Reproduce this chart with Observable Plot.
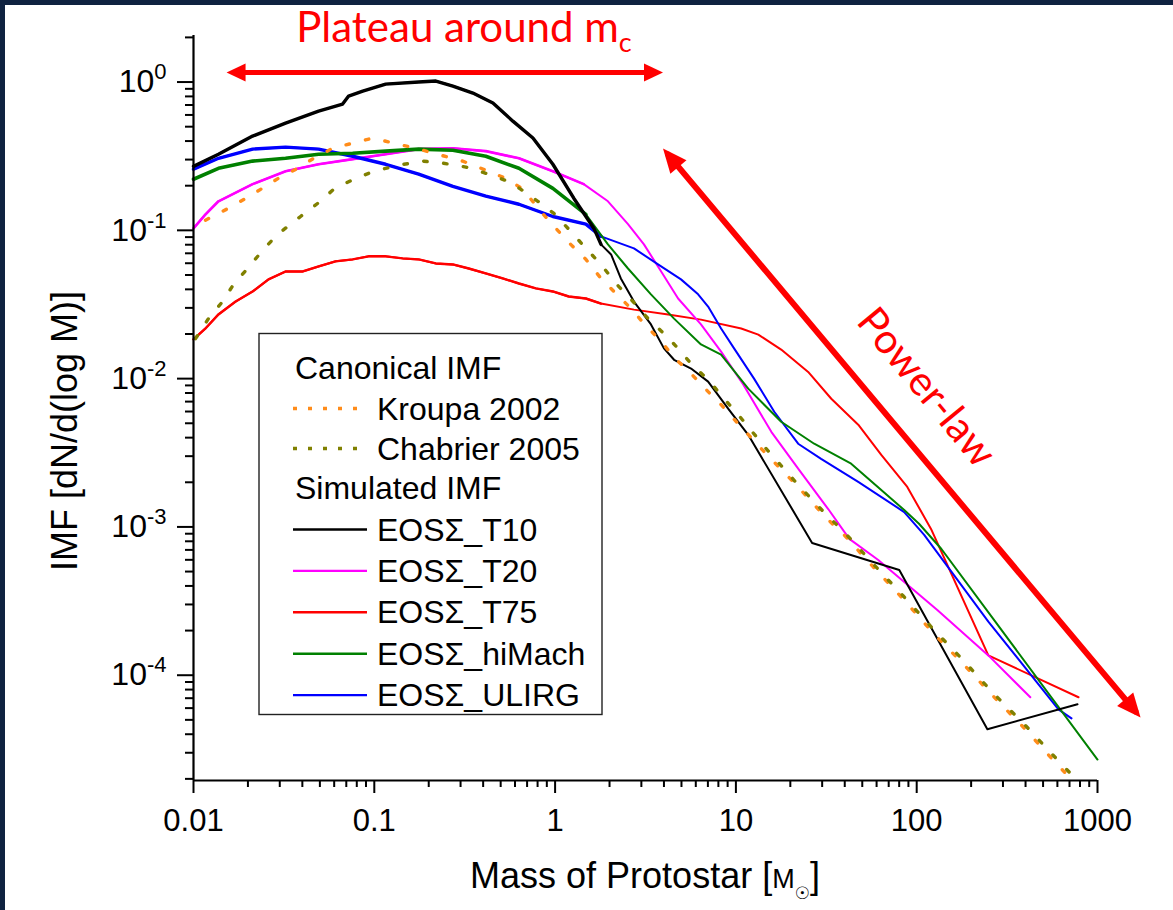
<!DOCTYPE html>
<html>
<head>
<meta charset="utf-8">
<script src="https://cdn.jsdelivr.net/npm/d3@7"></script>
<script src="https://cdn.jsdelivr.net/npm/@observablehq/plot@0.6"></script>
<style>
html, body { margin: 0; padding: 0; background: #ffffff; }
#wrap { width: 1168px; height: 905px; border-top: 5px solid #0f2240; border-left: 5px solid #0f2240; background: #ffffff; overflow: hidden; }
</style>
</head>
<body>
<div id="wrap"></div>
<script>
// ---------------- data ----------------
const xTickValues = [0.01, 0.1, 1, 10, 100, 1000];
const xTickLabels = ["0.01", "0.1", "1", "10", "100", "1000"];
const yTickValues = [1e-4, 1e-3, 1e-2, 1e-1, 1];
const yTickExps = ["-4", "-3", "-2", "-1", "0"];

// Simulated IMFs
const t10M = [0.01,0.01374,0.02123,0.0323,0.0492,0.0668,0.0721,0.0863,0.1156,0.176,0.219,0.272,0.351,0.453,0.584,0.754,0.972,1.271,1.640,1.794,2.04,2.31,2.73,3.39,4.00,4.55,5.65,7.02,9.06,11.7,26.4,80.1,246,775];
const t10V = [0.270,0.326,0.432,0.528,0.637,0.710,0.804,0.869,0.969,1.0,1.016,0.940,0.843,0.722,0.545,0.419,0.279,0.164,0.103,0.0804,0.0688,0.0474,0.0331,0.0232,0.0160,0.0134,0.0117,0.00955,0.00627,0.00418,0.000780,0.000512,4.32e-5,6.37e-5];

const t20M = [0.01,0.01165,0.01374,0.02123,0.0323,0.0492,0.0759,0.1156,0.176,0.272,0.414,0.631,0.972,1.44,1.96,2.53,3.10,3.86,4.79,6.41,8.28,11.0,15.7,22.1,32.4,42.4,61.3,130,249,425];
const t20V = [0.103,0.128,0.157,0.205,0.250,0.279,0.302,0.326,0.353,0.358,0.342,0.306,0.250,0.205,0.157,0.110,0.0804,0.0528,0.0347,0.0232,0.0152,0.00910,0.00438,0.00247,0.00132,0.000830,0.000598,0.000275,0.000136,7.10e-5];

const t75M = [0.01,0.01165,0.01374,0.0171,0.02123,0.0260,0.0323,0.0402,0.0492,0.0611,0.0759,0.0931,0.1156,0.1435,0.176,0.219,0.272,0.333,0.414,0.514,0.631,0.783,0.972,1.19,1.48,1.794,2.73,4.22,6.41,10.7,13.3,17.8,25.1,33.7,47.5,63.7,88.7,120,249,785];
const t75V = [0.0184,0.0218,0.0271,0.0331,0.0387,0.0467,0.0528,0.0528,0.0571,0.0618,0.0637,0.0668,0.0668,0.0647,0.0637,0.0598,0.0589,0.0553,0.0512,0.0474,0.0438,0.0406,0.0387,0.0358,0.0347,0.0321,0.0292,0.0271,0.0250,0.0218,0.0198,0.0157,0.0111,0.00732,0.00489,0.00306,0.00186,0.000969,0.000136,7.10e-5];

const hiMachM = [0.01,0.01374,0.02123,0.0323,0.0492,0.0759,0.1156,0.176,0.272,0.414,0.631,0.972,1.48,1.96,2.53,3.39,4.55,6.41,8.28,11.7,17.8,27.1,43.4,85.3,103,137,1000];
const hiMachV = [0.221,0.262,0.293,0.306,0.326,0.331,0.342,0.353,0.347,0.316,0.262,0.192,0.128,0.0804,0.0553,0.0370,0.0254,0.0170,0.0145,0.00856,0.00512,0.00364,0.00267,0.00130,0.00105,0.000710,2.7e-5];

const ulirgM = [0.01,0.01374,0.02123,0.0323,0.0492,0.0759,0.1156,0.176,0.272,0.414,0.631,0.972,1.48,1.794,2.73,3.71,4.97,6.18,7.02,8.28,9.77,12.6,16.3,22.1,29.6,47.5,85.3,110,249,608,718];
const ulirgV = [0.258,0.306,0.353,0.364,0.353,0.316,0.279,0.239,0.198,0.170,0.150,0.124,0.110,0.0911,0.0756,0.0589,0.0467,0.0370,0.0306,0.0218,0.0160,0.0100,0.00598,0.00364,0.00288,0.00201,0.00126,0.000883,0.00023,5.89e-5,5.12e-5];

// Canonical IMFs
const kroupaM = [0.01165,0.01563,0.0194,0.0235,0.0296,0.0377,0.0462,0.0589,0.0759,0.098,0.176,0.308,0.430,0.548,0.664,0.834,1.01,1.22,1.48,1.794,2.17,2.63,3.10,3.86,4.55,5.65,7.02,8.28,10.3,14.7,22.1,31.6,39.7,57.5,84.3,125,181,262,399,563,718];
const kroupaV = [0.117,0.141,0.164,0.189,0.225,0.262,0.306,0.358,0.387,0.419,0.353,0.293,0.250,0.221,0.189,0.134,0.103,0.0804,0.0637,0.0474,0.0375,0.0297,0.0235,0.0178,0.0139,0.0108,0.00817,0.00667,0.00496,0.00311,0.00186,0.00115,0.000883,0.000537,0.000326,0.000189,0.000119,7.33e-5,4.32e-5,2.71e-5,1.98e-5];

const chabrierM = [0.01026,0.0121,0.01448,0.01665,0.0199,0.0244,0.0292,0.0391,0.0486,0.0596,0.0769,0.0993,0.1365,0.185,0.239,0.321,0.430,0.548,0.647,0.803,0.985,1.22,1.48,1.794,2.17,2.63,3.27,4.00,4.79,5.65,7.02,8.61,10.3,14.7,22.1,31.6,39.7,57.5,84.3,125,181,262,399,563,718];
const chabrierV = [0.0186,0.0254,0.0331,0.0432,0.0553,0.0745,0.0940,0.124,0.152,0.189,0.221,0.250,0.275,0.293,0.284,0.267,0.239,0.214,0.189,0.157,0.130,0.0985,0.0756,0.0589,0.0438,0.0342,0.0254,0.0201,0.0160,0.0126,0.00984,0.00732,0.00571,0.00337,0.00192,0.00121,0.000925,0.000562,0.000342,0.000201,0.000126,7.68e-5,4.59e-5,2.92e-5,2.14e-5];

// Annotation anchors (data space)
const plateauArrowM = [0.01687, 3.57];
const plateauArrowV = [1.159, 1.159];
const powerArrowM = [4.22, 1621];
const powerArrowV = [0.324, 5.70e-5];
const powerLabelM = [113];
const powerLabelV = [0.00871];
const powerLabelText = ["Power-law"];

// legend entries
const legendCanonical = ["Kroupa 2002", "Chabrier 2005"];
const legendSimulated = ["EOSΣ_T10", "EOSΣ_T20", "EOSΣ_T75", "EOSΣ_hiMach", "EOSΣ_ULIRG"];

// ---------------- helpers ----------------
const rows = (Ms, Vs) => Ms.map((m, i) => ({M: m, V: Vs[i]}));
const xMinorTicks = [];
for (const e of [-2, -1, 0, 1, 2]) for (let k = 2; k <= 9; k++) xMinorTicks.push(+(k * Math.pow(10, e)).toPrecision(3));
const yMinorTicks = [];
for (const e of [-5, -4, -3, -2, -1, 0]) for (let k = 2; k <= 9; k++) {
  const v = +(k * Math.pow(10, e)).toPrecision(3);
  if (v >= 1.95e-5 && v <= 2.06) yMinorTicks.push(v);
}

const simStyle = [
  {M: t75M, V: t75V, color: "#ff0000", noisyMax: 2.0, noisyW: 2.4},
  {M: t20M, V: t20V, color: "#ff00ff", noisyMax: 1.5, noisyW: 2.6},
  {M: ulirgM, V: ulirgV, color: "#0000ff", noisyMax: 2.7, noisyW: 3.4},
  {M: hiMachM, V: hiMachV, color: "#008000", noisyMax: 1.5, noisyW: 3.6},
  {M: t10M, V: t10V, color: "#000000", noisyMax: 1.8, noisyW: 3.4}
];
const legendColors = ["#000000", "#ff00ff", "#ff0000", "#008000", "#0000ff"];
const kroupaColor = "#ff8c1a", chabrierColor = "#808000";

const arrowHead = (len, half, protrude) => ({
  draw(ctx) {
    ctx.moveTo(protrude, 0);
    ctx.lineTo(protrude - len, -half);
    ctx.lineTo(protrude - len, half);
    ctx.closePath();
  }
});

const marks = [];
for (const s of simStyle) {
  const r = rows(s.M, s.V);
  marks.push(Plot.line(r, {x: "M", y: "V", stroke: s.color, strokeWidth: 2, strokeLinejoin: "round"}));
  marks.push(Plot.line(r.filter(d => d.M <= s.noisyMax), {x: "M", y: "V", stroke: s.color, strokeWidth: s.noisyW, strokeLinejoin: "round"}));
}
marks.push(Plot.line(rows(kroupaM, kroupaV), {x: "M", y: "V", stroke: kroupaColor, strokeWidth: 3.4, strokeDasharray: "3.5,16.5"}));
marks.push(Plot.line(rows(chabrierM, chabrierV), {x: "M", y: "V", stroke: chabrierColor, strokeWidth: 3.4, strokeDasharray: "3.5,16.5"}));

// axes
marks.push(Plot.ruleX([0.01], {strokeWidth: 2.2}));
marks.push(Plot.ruleY([1.95e-5], {strokeWidth: 2.2}));
marks.push(Plot.axisX({ticks: xTickValues, tickFormat: d => xTickLabels[xTickValues.indexOf(d)], tickSize: 13, tickPadding: 15, fontSize: 31, strokeWidth: 2, label: null}));
marks.push(Plot.axisX({ticks: xMinorTicks, tickFormat: () => "", tickSize: 7, strokeWidth: 2, label: null}));
marks.push(Plot.axisY({ticks: yTickValues, tickFormat: d => "10^" + yTickExps[yTickValues.indexOf(d)], tickSize: 16, tickPadding: 11, fontSize: 32, strokeWidth: 2, label: null}));
marks.push(Plot.axisY({ticks: yMinorTicks, tickFormat: () => "", tickSize: 8, strokeWidth: 2, label: null}));

// annotation arrows
const plateauRows = rows(plateauArrowM, plateauArrowV);
const powerRows = rows(powerArrowM, powerArrowV);
marks.push(Plot.line(plateauRows, {x: "M", y: "V", stroke: "#ff0000", strokeWidth: 5}));
marks.push(Plot.dot(plateauRows, {x: "M", y: "V", fill: "#ff0000", stroke: "none", symbol: arrowHead(19, 9, 8), rotate: (d, i) => i === 0 ? 180 : 0}));
marks.push(Plot.line(powerRows, {x: "M", y: "V", stroke: "#ff0000", strokeWidth: 6}));
marks.push(Plot.dot(powerRows, {x: "M", y: "V", fill: "#ff0000", stroke: "none", symbol: arrowHead(24, 10.5, 8), rotate: (d, i) => i === 0 ? 230.1 : 50.1}));
marks.push(Plot.text(powerLabelText.map((t, i) => ({t, M: powerLabelM[i], V: powerLabelV[i]})), {x: "M", y: "V", text: "t", rotate: 50.5, fill: "#ff0000", fontSize: 41, fontFamily: "Lato, 'Open Sans', sans-serif", textAnchor: "middle", lineAnchor: "middle"}));

const plot = Plot.plot({
  width: 1168,
  height: 905,
  marginLeft: 188,
  marginRight: 76,
  marginTop: 30,
  marginBottom: 130,
  style: {fontFamily: "'Liberation Sans', Arial, sans-serif", background: "#ffffff", color: "#000000", overflow: "visible"},
  x: {type: "log", domain: [0.01, 1000], axis: null},
  y: {type: "log", domain: [1.95e-5, 2.06], axis: null},
  marks
});
document.getElementById("wrap").appendChild(plot);

// ---------------- post-processing: rich text ----------------
const svg = d3.select(plot);
// superscript exponents on the y tick labels
svg.selectAll("text").each(function () {
  const m = /^10\^(-?\d+)$/.exec(this.textContent);
  if (!m) return;
  const t = d3.select(this);
  t.text("10");
  t.append("tspan").attr("dy", -13).attr("font-size", 22).text(m[1]);
});

// title
const title = svg.append("text")
  .attr("x", 459).attr("y", 37)
  .attr("text-anchor", "middle")
  .attr("fill", "#ff0000")
  .attr("font-family", "Lato, 'Open Sans', sans-serif")
  .attr("font-size", 42);
title.append("tspan").text("Plateau around m");
title.append("tspan").attr("font-size", 27).attr("dy", 10).text("c");

// y axis title
svg.append("text")
  .attr("transform", "translate(72,426) rotate(-90)")
  .attr("text-anchor", "middle")
  .attr("font-size", 36)
  .attr("fill", "#000")
  .text("IMF [dN/d(log M)]");

// x axis title
const xt = svg.append("text")
  .attr("x", 640).attr("y", 883)
  .attr("text-anchor", "middle")
  .attr("font-size", 36)
  .attr("fill", "#000");
xt.append("tspan").text("Mass of Protostar [");
xt.append("tspan").attr("font-size", 27).text("M");
xt.append("tspan").attr("font-size", 17).attr("dy", 11).attr("font-family", "'DejaVu Sans', sans-serif").text("☉");
xt.append("tspan").attr("dy", -11).text("]");

// legend
const lg = svg.append("g").attr("font-size", 32).attr("fill", "#000").attr("text-anchor", "start");
lg.append("rect").attr("x", 254).attr("y", 328.5).attr("width", 343).attr("height", 381)
  .attr("fill", "#ffffff").attr("stroke", "#222").attr("stroke-width", 1.4);
lg.append("text").attr("x", 290).attr("y", 374).attr("text-anchor", "start").text("Canonical IMF");
[kroupaColor, chabrierColor].forEach((c, i) => {
  const yy = 403.5 + i * 40;
  lg.append("line").attr("x1", 288).attr("x2", 356).attr("y1", yy).attr("y2", yy)
    .attr("stroke", c).attr("stroke-width", 3.4).attr("stroke-dasharray", "4,11");
  lg.append("text").attr("x", 372).attr("y", yy + 11).attr("text-anchor", "start").text(legendCanonical[i]);
});
lg.append("text").attr("x", 290).attr("y", 494).attr("text-anchor", "start").text("Simulated IMF");
legendSimulated.forEach((name, i) => {
  const yy = 524.5 + i * 41.4;
  lg.append("line").attr("x1", 288).attr("x2", 362).attr("y1", yy).attr("y2", yy)
    .attr("stroke", legendColors[i]).attr("stroke-width", 2.4);
  lg.append("text").attr("x", 372).attr("y", yy + 11).attr("text-anchor", "start").text(name);
});
</script>
</body>
</html>
